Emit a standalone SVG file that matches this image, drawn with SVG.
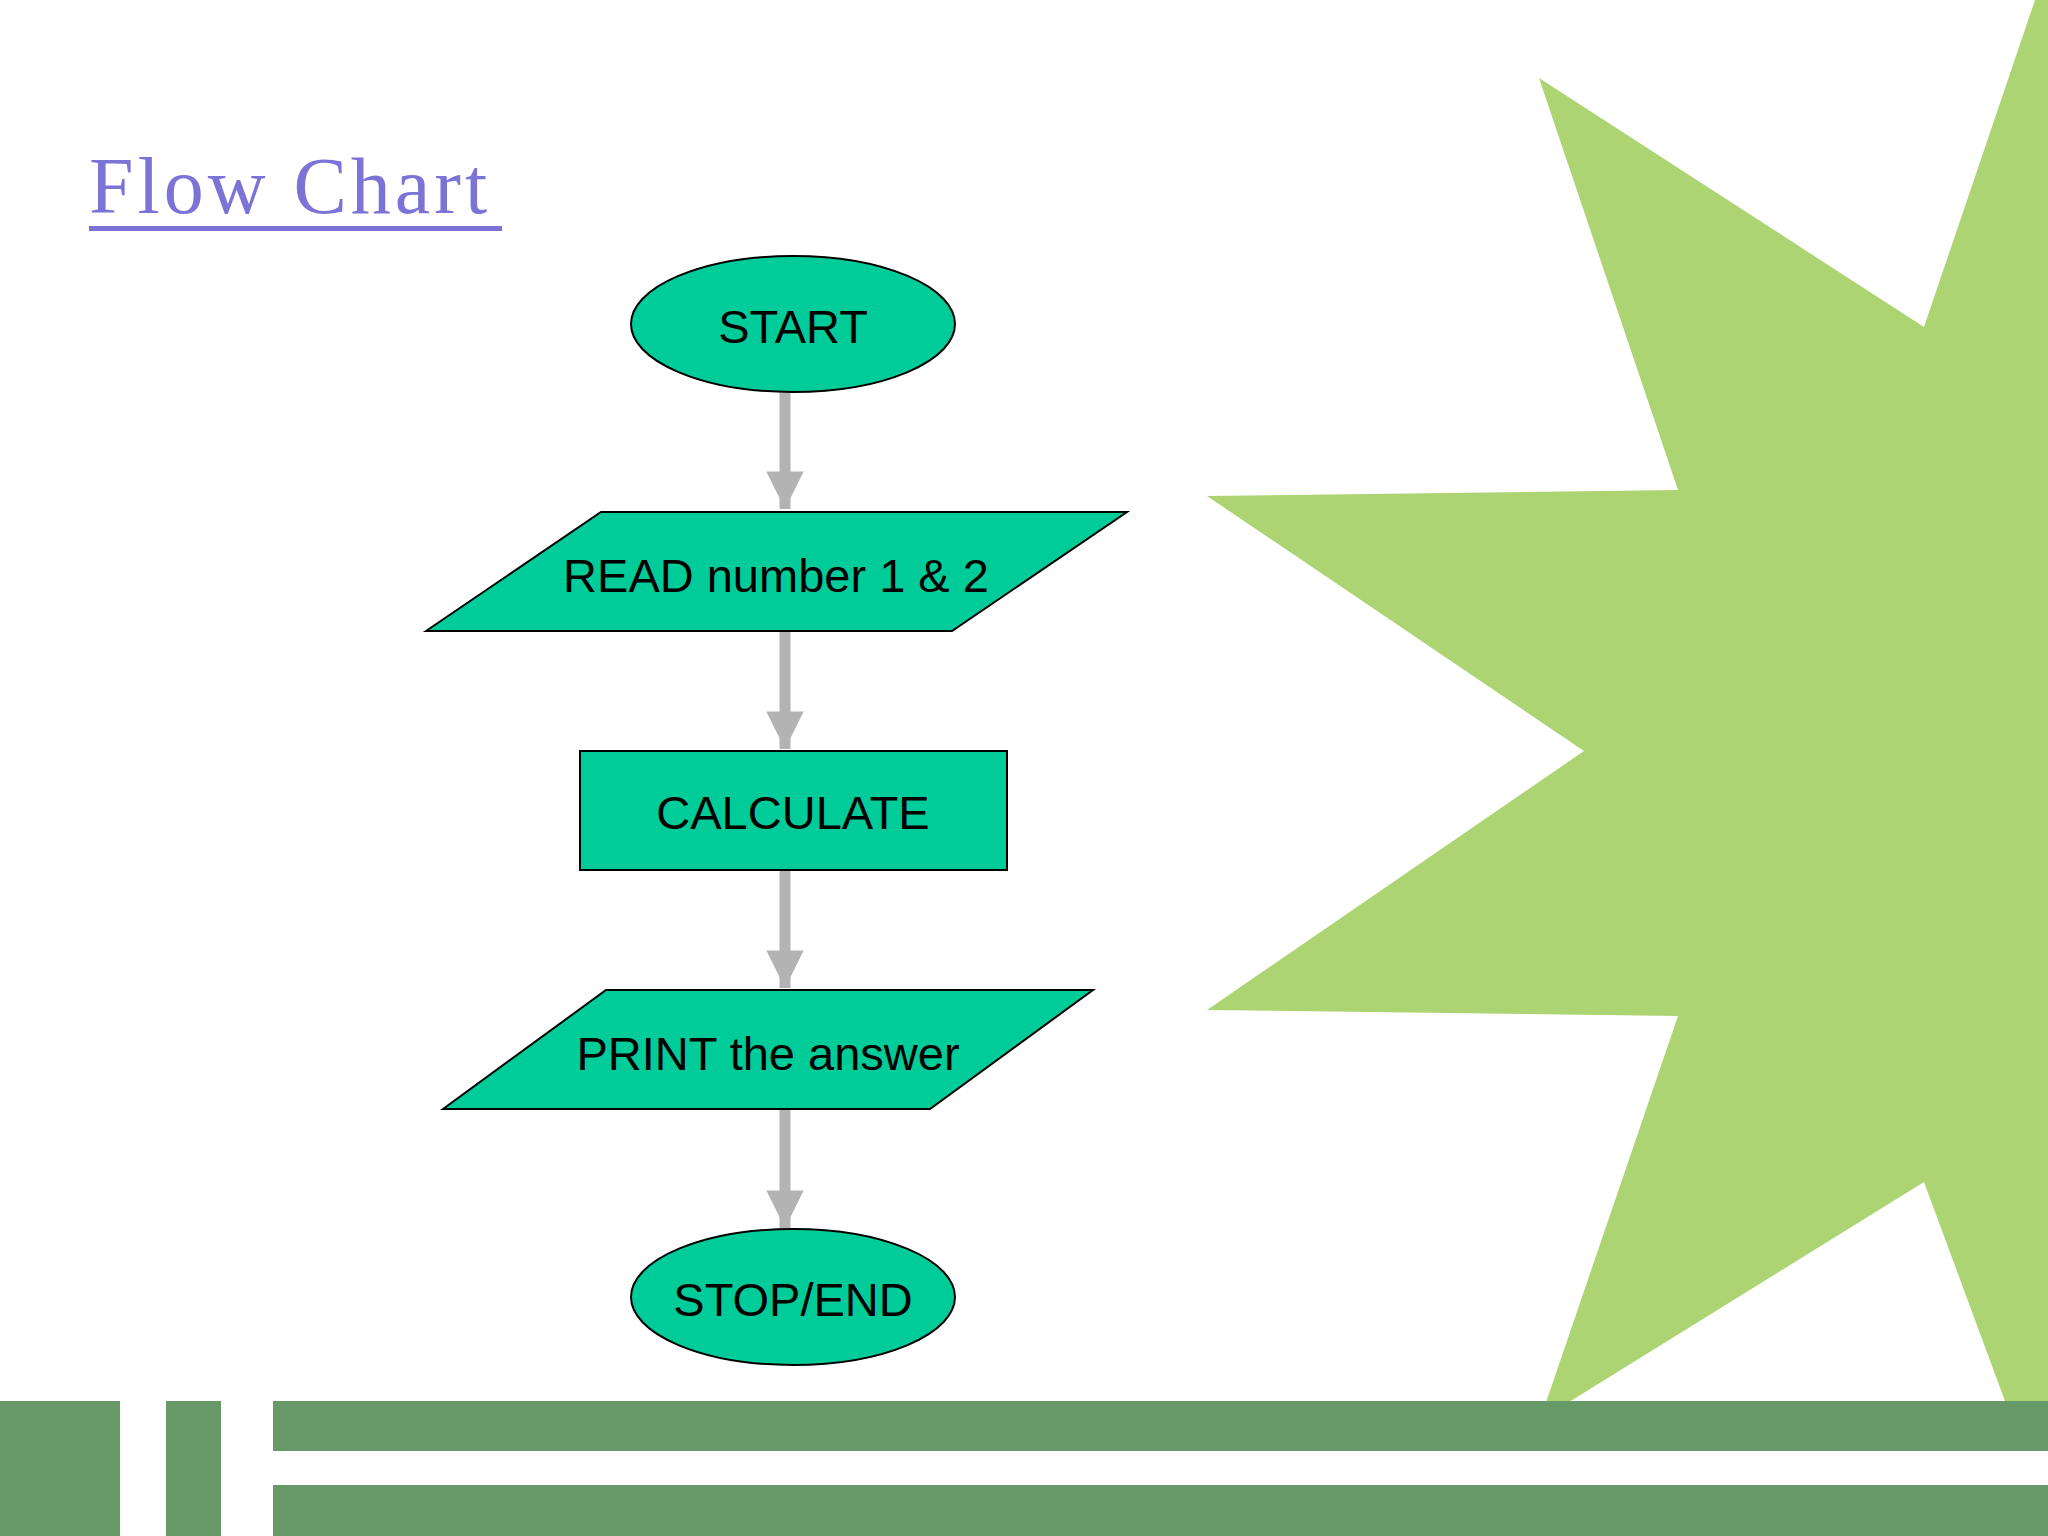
<svg xmlns="http://www.w3.org/2000/svg" width="2048" height="1536" viewBox="0 0 2048 1536">
<style>
.n{fill:#00cc99;stroke:#000;stroke-width:2}
.t{font-family:"Liberation Sans",Arial,sans-serif;font-size:47px;fill:#000;text-anchor:middle;dominant-baseline:central}
.c{stroke:#b3b3b3;stroke-width:11;fill:none}
.bar{fill:#679a68}
</style>
<defs><marker id="ah" viewBox="0 0 10 10" refX="10" refY="5" markerWidth="3.6" markerHeight="3.4" orient="auto" markerUnits="strokeWidth"><path d="M0,0L10,5L0,10z" fill="#b3b3b3"/></marker></defs>
<rect width="2048" height="1536" fill="#fff"/>
<polygon points="1539,78 1924,327 2035,0 2048,0 2048,1420 2012,1420 1924,1182 1540,1420 1678,1016 1207,1010 1584,751 1207,496 1678,490" fill="#acd473"/>
<rect class="bar" x="0" y="1401" width="120" height="135"/>
<rect class="bar" x="166" y="1401" width="55" height="135"/>
<rect class="bar" x="273" y="1401" width="1775" height="50"/>
<rect class="bar" x="273" y="1485" width="1775" height="51"/>
<text x="89" y="213" font-family="Liberation Serif,serif" font-size="80" fill="#7b74d6" letter-spacing="4">Flow Chart</text>
<rect x="89" y="226" width="413" height="5" fill="#7b74d6"/>
<g id="connectors">
<line class="c" x1="785" y1="392" x2="785" y2="509" marker-end="url(#ah)"/>
<line class="c" x1="785" y1="631" x2="785" y2="749" marker-end="url(#ah)"/>
<line class="c" x1="785" y1="870" x2="785" y2="988" marker-end="url(#ah)"/>
<line class="c" x1="785" y1="1109" x2="785" y2="1228" marker-end="url(#ah)"/>
</g>
<g id="start"><ellipse class="n" cx="793" cy="324" rx="162" ry="68"/><text class="t" x="793" y="326">START</text></g>
<g id="read"><polygon class="n" points="426,631 601,512 1127,512 952,631"/><text class="t" x="776" y="575">READ number 1 &amp; 2</text></g>
<g id="calc"><rect class="n" x="580" y="751" width="427" height="119"/><text class="t" x="793" y="812">CALCULATE</text></g>
<g id="print"><polygon class="n" points="443,1109 606,990 1093,990 930,1109"/><text class="t" x="768" y="1053">PRINT the answer</text></g>
<g id="stop"><ellipse class="n" cx="793" cy="1297" rx="162" ry="68"/><text class="t" x="793" y="1299">STOP/END</text></g>
</svg>
